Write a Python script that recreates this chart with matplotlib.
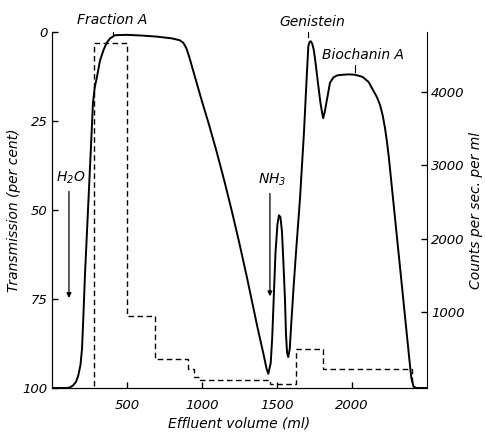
import matplotlib
matplotlib.use("Agg")
import matplotlib.pyplot as plt

plt.rcParams['font.family'] = ['DejaVu Sans']
plt.rcParams['font.style'] = 'italic'

# transmission trace (effluent ml, per cent transmission)
volume = [0, 100, 120, 140, 160, 175, 190, 200, 210, 220, 240, 260, 273, 285,
          298, 320, 344, 365, 387, 420, 500, 600, 700, 800, 850, 875, 895, 915,
          940, 1000, 1050, 1100, 1150, 1200, 1250, 1300, 1370, 1410, 1430,
          1442, 1458, 1468, 1478, 1490, 1503, 1513, 1523, 1533, 1543, 1553,
          1560, 1567, 1575, 1585, 1595, 1610, 1630, 1653, 1680, 1700, 1709,
          1717, 1725, 1735, 1745, 1755, 1773, 1790, 1800, 1808, 1818, 1833,
          1853, 1875, 1900, 1940, 1980, 2020, 2070, 2110, 2140, 2165, 2187,
          2205, 2220, 2232, 2245, 2320, 2380, 2395, 2410, 2430, 2500]
transmission = [100, 100, 99.8, 99.3, 98.3, 96.5, 93.5, 89, 79, 68, 50, 32, 20,
                15.5, 13, 8, 5, 3, 1.8, 0.9, 0.8, 1.0, 1.3, 1.8, 2.3, 3, 4.5, 7,
                10.7, 19.5, 26.5, 34, 42, 50.5, 59.5, 69, 83, 90.5, 94.5,
                96, 93, 86, 75, 62, 54, 51.5, 52, 56, 65, 75,
                85, 90, 91.3, 89, 82, 72, 60, 47, 28, 11, 4,
                2.8, 2.6, 3.3, 5, 8, 14.3, 20, 22.5, 24.2, 22.5, 19,
                14.3, 12.8, 12.2, 12, 11.9, 12, 12.6, 14, 16.3, 18.2, 20.5,
                23.5, 27, 30.5, 35, 66, 91, 97, 99.6, 100, 100]

# radioactivity histogram
bin_edges = [280, 500, 687, 907, 950, 985, 1453, 1627, 1807, 2400]
counts = [4664, 946, 369, 235, 114, 74, 25, 503, 235]

x_ticks = [500, 1000, 1500, 2000]
left_ticks = [0, 25, 50, 75, 100]
right_ticks = [1000, 2000, 3000, 4000]

fig = plt.figure(figsize=(4.86, 4.32), dpi=100)
ax = fig.add_axes([52 / 486, 1 - 388 / 432, (427 - 52) / 486, (388 - 32) / 432])
ax2 = ax.twinx()

ax.plot(volume, transmission, color='black', lw=1.4)
ax2.stairs(counts, bin_edges, baseline=0, fill=False, color='black',
           lw=1.0, linestyle=(0, (4, 2.5)))

ax.set_xlim(0, 2500)
ax.set_ylim(100, 0)
ax2.set_ylim(-30, 4810)

ax.set_xticks(x_ticks)
ax.set_yticks(left_ticks)
ax2.set_yticks(right_ticks)

for a in (ax, ax2):
    a.spines['top'].set_visible(False)
    a.tick_params(direction='in', length=4, width=1, labelsize=9.5, pad=3)
ax.spines['right'].set_visible(False)
ax.tick_params(axis='x', pad=8)

ax.set_xlabel('Effluent volume (ml)', fontsize=10, labelpad=3)
ax.set_ylabel('Transmission (per cent)', fontsize=10, labelpad=1)
ax2.set_ylabel('Counts per sec. per ml', fontsize=10, labelpad=3)

# peak labels
ax.text(400, -3.4, 'Fraction A', ha='center', va='center', fontsize=10)
ax.text(1733, -2.8, 'Genistein', ha='center', va='center', fontsize=10)
ax.text(2073, 6.5, 'Biochanin A', ha='center', va='center', fontsize=10)
ax.plot([407, 407], [0.0, 1.2], color='black', lw=0.8, clip_on=False)
ax.plot([1707, 1707], [0.0, 1.4], color='black', lw=0.8, clip_on=False)
ax.plot([2020, 2020], [9.3, 11.2], color='black', lw=0.8)

# eluent arrows
ax.text(127, 41, 'H$_2$O', ha='center', va='center', fontsize=10)
ax.annotate('', xy=(113, 75.5), xytext=(113, 44),
            arrowprops=dict(arrowstyle='-|>', color='black', lw=0.9,
                            mutation_scale=7))
ax.text(1467, 41.6, 'NH$_3$', ha='center', va='center', fontsize=10)
ax.annotate('', xy=(1453, 75), xytext=(1453, 44.6),
            arrowprops=dict(arrowstyle='-|>', color='black', lw=0.9,
                            mutation_scale=7))

fig.savefig('out.png', dpi=100)
